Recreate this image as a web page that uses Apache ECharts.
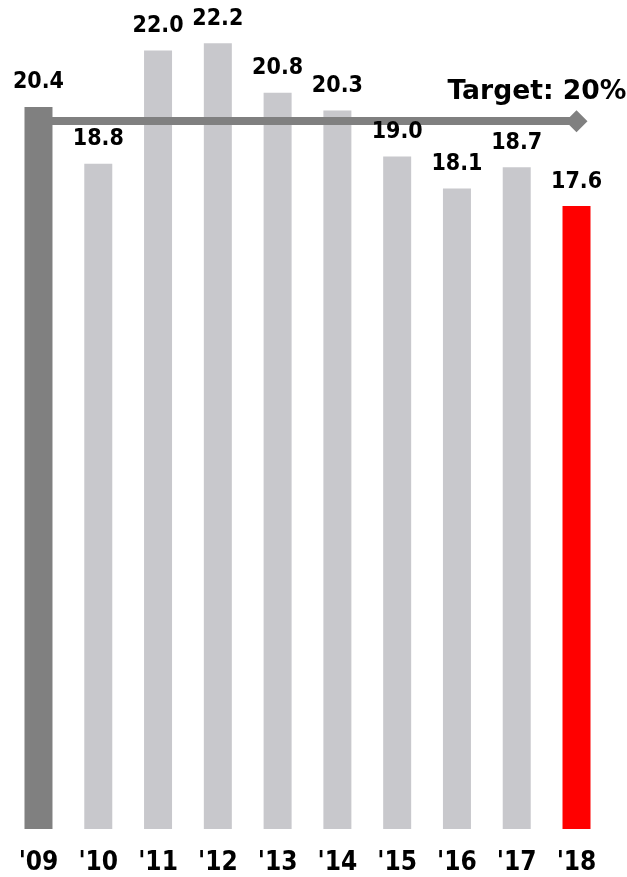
<!DOCTYPE html>
<html>
<head>
<meta charset="utf-8">
<style>
  html, body { margin: 0; padding: 0; background: #ffffff; }
  #chart { width: 627px; height: 877px; }
</style>
<script src="https://cdn.jsdelivr.net/npm/echarts@6/dist/echarts.min.js"></script>
</head>
<body>
<div id="chart"></div>
<script>
// Yearly values, '09 to '18
const years = ["'09", "'10", "'11", "'12", "'13", "'14", "'15", "'16", "'17", "'18"];
const values = [20.4, 18.8, 22.0, 22.2, 20.8, 20.3, 19.0, 18.1, 18.7, 17.6];
const barColors = ['#808080', '#c8c8cc', '#c8c8cc', '#c8c8cc', '#c8c8cc',
                   '#c8c8cc', '#c8c8cc', '#c8c8cc', '#c8c8cc', '#ff0000'];
const target = [20];

const chart = echarts.init(document.getElementById('chart'), null, { renderer: 'canvas' });

const valueLabel = {
  show: true,
  position: 'top',
  distance: 13,
  color: '#000000',
  fontSize: 23,
  fontWeight: 'bold',
  fontFamily: '"DejaVu Sans Condensed", "DejaVu Sans", sans-serif',
  formatter: p => p.value.toFixed(1)
};

chart.setOption({
  animation: false,
  backgroundColor: '#ffffff',
  grid: { left: 8.6, right: 20.6, top: 15, bottom: 48, containLabel: false },
  xAxis: {
    type: 'category',
    data: years,
    axisLine: { show: false },
    axisTick: { show: false },
    axisLabel: {
      margin: 21,
      color: '#000000',
      fontSize: 26,
      fontWeight: 'bold',
      fontFamily: '"DejaVu Sans Condensed", sans-serif'
    }
  },
  yAxis: {
    type: 'value',
    min: 0,
    max: 23,
    show: false,
    splitLine: { show: false }
  },
  series: [
    {
      // coloured bars with the target line drawn over them
      type: 'bar',
      z: 2,
      barWidth: 28,
      data: values.map((v, i) => ({ value: v, itemStyle: { color: barColors[i] } })),
      markLine: {
        silent: true,
        z: 3,
        symbol: ['none', 'diamond'],
        symbolSize: 22,
        lineStyle: { color: '#808080', width: 8, type: 'solid' },
        label: {
          show: true,
          position: 'insideEndTop',
          distance: 16,
          offset: [66, 0],
          color: '#000000',
          fontSize: 26.6,
          fontWeight: 'bold',
          fontFamily: '"DejaVu Sans", sans-serif',
          formatter: () => 'Target: ' + target[0] + '%'
        },
        data: [[
          { coord: [0, target[0]] },
          { coord: [years.length - 1, target[0]] }
        ]]
      }
    },
    {
      // value labels, kept on top of the target line
      type: 'bar',
      z: 4,
      barWidth: 28,
      barGap: '-100%',
      silent: true,
      itemStyle: { color: 'rgba(0,0,0,0)' },
      data: values,
      label: valueLabel
    }
  ]
});
</script>
</body>
</html>
